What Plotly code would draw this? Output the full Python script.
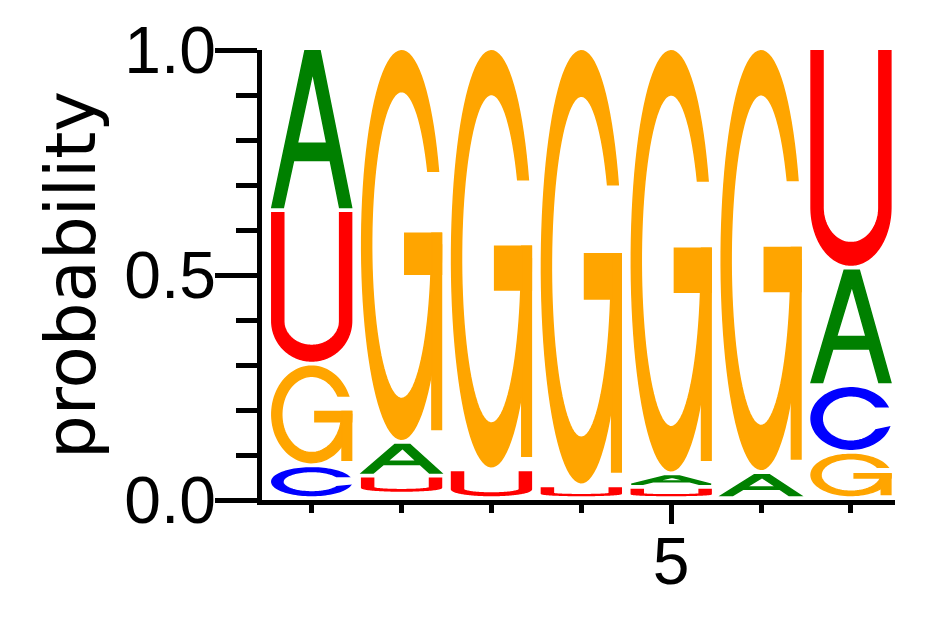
import numpy as np
import plotly.graph_objects as go

# sequence logo, RNA, 7 positions
positions = [1, 2, 3, 4, 5, 6, 7]
prob_A = [0.360, 0.075, 0.000, 0.000, 0.030, 0.058, 0.261]
prob_C = [0.073, 0.010, 0.000, 0.000, 0.000, 0.000, 0.148]
prob_G = [0.226, 0.875, 0.936, 0.9715, 0.945, 0.942, 0.103]
prob_U = [0.341, 0.040, 0.064, 0.0285, 0.025, 0.000, 0.488]

letters = ["A", "C", "G", "U"]
colors = {"A": "#008000", "C": "#0000ff", "G": "#ffa500", "U": "#ff0000"}


def arc(cx, cy, rx, ry, a0, a1, n=90):
    t = np.radians(np.linspace(a0, a1, n))
    return list(zip(cx + rx * np.cos(t), cy + ry * np.sin(t)))


def rect(x0, y0, x1, y1):
    return [(x0, y0), (x1, y0), (x1, y1), (x0, y1)]


# glyph outlines in a unit box; each part is a list of sub-polygons
def glyph_A():
    outer = [(0, 0), (0.145, 0), (0.273, 0.30), (0.732, 0.30), (0.85, 0),
             (1, 0), (0.605, 1), (0.415, 1)]
    hole = [(0.32, 0.41), (0.689, 0.41), (0.512, 0.86)]
    return [[outer, hole]]


def glyph_C():
    ix, iy = 0.36, 0.37
    ao = np.degrees(np.arcsin(0.19 / 0.5))
    ai = np.degrees(np.arcsin(0.19 / iy))
    ring = arc(0.5, 0.5, 0.5, 0.5, ao, 344) + arc(0.5, 0.5, ix, iy, 330, ai)
    return [[ring]]


def glyph_G():
    ix, iy = 0.375, 0.395
    yt = 0.69
    ao = np.degrees(np.arcsin((yt - 0.5) / 0.5))
    ai = np.degrees(np.arcsin((yt - 0.5) / iy))
    ring = arc(0.5, 0.5, 0.5, 0.5, ao, 360) + arc(0.5, 0.5, ix, iy, 360, ai)
    return [[ring], [rect(0.54, 0.425, 1.0, 0.53)], [rect(0.88, 0.025, 1.0, 0.53)]]


def glyph_U():
    sw, yc, bw = 0.15, 0.27, 0.105
    poly = [(0, 1), (0, yc)] + arc(0.5, yc, 0.5, yc, 180, 360)
    poly += [(1, 1), (1 - sw, 1), (1 - sw, yc)]
    poly += arc(0.5, yc, 0.5 - sw, yc - bw, 360, 180) + [(sw, yc), (sw, 1)]
    return [[poly]]


glyphs = {"A": glyph_A(), "C": glyph_C(), "G": glyph_G(), "U": glyph_U()}
probs = {"A": prob_A, "C": prob_C, "G": prob_G, "U": prob_U}

W = 0.888
gap_bottom = 0.010
gap_top = 0.0017

shapes = []
for i, pos in enumerate(positions):
    col = sorted(((probs[l][i], l) for l in letters))
    base = 0.0
    for p, l in col:
        h = p - gap_bottom - gap_top
        if h > 0.001:
            x0 = pos - W / 2
            y0 = base + gap_bottom
            for part in glyphs[l]:
                path = ""
                for poly in part:
                    pts = ["%.5f,%.5f" % (x0 + gx * W, y0 + gy * h) for gx, gy in poly]
                    path += "M" + "L".join(pts) + "Z"
                shapes.append(dict(type="path", path=path, xref="x", yref="y",
                                   fillcolor=colors[l], fillrule="evenodd",
                                   line=dict(color=colors[l], width=1.5),
                                   layer="above"))
        base += p

fig = go.Figure()
# invisible trace so the axes exist
fig.add_trace(go.Scatter(x=positions, y=[0] * len(positions), mode="markers",
                         marker=dict(opacity=0), hoverinfo="skip", showlegend=False))

tick_font = dict(family="Liberation Sans, Arial, sans-serif", size=66, color="black")

# page body adds an 8px offset, so the figure is 8px smaller each way
fig.update_layout(
    width=934, height=609,
    margin=dict(l=254, r=47, t=42, b=117),
    plot_bgcolor="white", paper_bgcolor="white",
    shapes=shapes,
    showlegend=False,
    xaxis=dict(range=[0.447, 7.49], showgrid=False, zeroline=False, automargin=False,
               showline=True, linecolor="black", linewidth=4.5,
               tickmode="array", tickvals=[5], ticktext=["5"],
               ticks="outside", ticklen=19, tickwidth=4.5, tickcolor="black",
               tickfont=tick_font, ticklabelstandoff=-19,
               minor=dict(tickmode="array", tickvals=positions, ticks="outside",
                          ticklen=8, tickwidth=4.5, tickcolor="black")),
    yaxis=dict(range=[0, 1], showgrid=False, zeroline=False, automargin=False,
               showline=True, linecolor="black", linewidth=4.5,
               tickmode="linear", tick0=0, dtick=0.5, tickformat=".1f",
               ticks="outside", ticklen=42, tickwidth=4.5, tickcolor="black",
               tickfont=tick_font, ticklabelstandoff=-14,
               minor=dict(tickmode="linear", tick0=0, dtick=0.1, ticks="outside",
                          ticklen=21, tickwidth=4.5, tickcolor="black"),
               title=dict(text="probability", standoff=8,
                          font=dict(family="DejaVu Sans", size=69, color="black"))),
)

fig.write_html("out.html")
